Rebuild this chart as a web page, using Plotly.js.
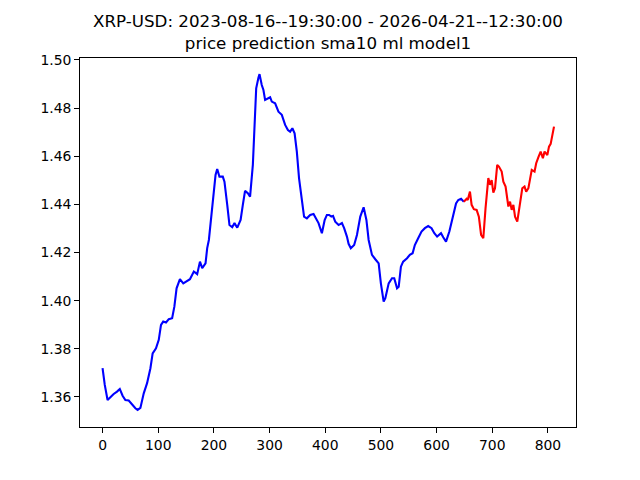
<!DOCTYPE html>
<html>
<head>
<meta charset="utf-8">
<script src="https://cdn.plot.ly/plotly-3.0.1.min.js"></script>
<style>html,body{margin:0;padding:0;background:#fff;}#chart{width:640px;height:480px;}</style>
</head>
<body>
<div id="chart"></div>
<script>
const histX = [0,4,9,14,20,26,31,36,41,47,52,59,63,68,74,80,86,90,96,101,105,109,114,119,125,129,133,139,145,152,157,164,170,175,179,185,188,191,194,198,203,206,210,216,219,224,228,233,237,242,248,252,256,261,265,270,273,276,280,282,286,289,292,297,301,304,310,316,322,328,333,337,341,345,349,353,358,362,367,373,379,384,388,394,399,403,407,411,414,418,424,430,434,439,442,446,452,457,463,469,474,478,484,490,496,500,505,508,514,520,524,529,532,536,540,547,552,557,561,567,573,579,585,591,596,601,608,612,617,623,630,635,639,644,649];
const histY = [1.3720,1.3650,1.3587,1.3600,1.3612,1.3622,1.3633,1.3605,1.3587,1.3585,1.3571,1.3553,1.3546,1.3554,1.3615,1.3657,1.3719,1.3781,1.3802,1.3837,1.3899,1.3913,1.3909,1.3923,1.3927,1.3975,1.4051,1.4089,1.4072,1.4083,1.4089,1.4121,1.4110,1.4162,1.4135,1.4155,1.4218,1.4252,1.4314,1.4398,1.4522,1.4547,1.4515,1.4515,1.4494,1.4398,1.4314,1.4305,1.4322,1.4303,1.4335,1.4398,1.4456,1.4446,1.4432,1.4564,1.4744,1.4882,1.4926,1.4941,1.4896,1.4875,1.4834,1.4841,1.4845,1.4827,1.4820,1.4785,1.4772,1.4730,1.4709,1.4702,1.4716,1.4695,1.4619,1.4508,1.4411,1.4349,1.4342,1.4356,1.4360,1.4342,1.4322,1.4280,1.4335,1.4356,1.4356,1.4349,1.4352,1.4328,1.4314,1.4322,1.4301,1.4266,1.4236,1.4218,1.4231,1.4273,1.4349,1.4388,1.4335,1.4252,1.4190,1.4172,1.4155,1.4072,1.3996,1.4010,1.4072,1.4093,1.4093,1.4051,1.4058,1.4141,1.4162,1.4176,1.4190,1.4197,1.4231,1.4259,1.4287,1.4301,1.4310,1.4301,1.4280,1.4266,1.4280,1.4263,1.4245,1.4287,1.4349,1.4404,1.4418,1.4423,1.4411];
const predX = [649,654,656,658,660,663,667,672,676,680,684,688,693,696,699,702,705,709,712,717,720,724,729,732,735,738,741,745,749,754,758,761,765,768,771,776,779,783,787,791,794,799,802,805,808,811];
const predY = [1.4411,1.4423,1.4418,1.4435,1.4453,1.4398,1.4380,1.4377,1.4349,1.4273,1.4259,1.4384,1.4509,1.4481,1.4501,1.4449,1.4467,1.4564,1.4557,1.4536,1.4494,1.4474,1.4391,1.4411,1.4377,1.4398,1.4349,1.4328,1.4398,1.4467,1.4474,1.4453,1.4467,1.4509,1.4543,1.4536,1.4571,1.4596,1.4619,1.4592,1.4619,1.4605,1.4640,1.4651,1.4696,1.4723];
const xTicks = [0,100,200,300,400,500,600,700,800];
const yTicks = [1.36,1.38,1.40,1.42,1.44,1.46,1.48,1.50];
const titleText = 'XRP-USD: 2023-08-16--19:30:00 - 2026-04-21--12:30:00<br>price prediction sma10 ml model1';

const traces = [
  {x: histX, y: histY, type: 'scatter', mode: 'lines', line: {color: '#0000ff', width: 2.1}, hoverinfo: 'skip'},
  {x: predX, y: predY, type: 'scatter', mode: 'lines', line: {color: '#ff0000', width: 2.1}, hoverinfo: 'skip'}
];
const axisCommon = {
  showline: true, linecolor: '#000', linewidth: 1, mirror: true,
  ticks: 'outside', ticklen: 4.9, tickwidth: 1, tickcolor: '#000',
  showgrid: false, zeroline: false,
  tickfont: {family: 'DejaVu Sans', size: 13.9, color: '#000'}
};
const layout = {
  width: 640, height: 480,
  paper_bgcolor: '#fff', plot_bgcolor: '#fff',
  showlegend: false,
  margin: {l: 80, r: 64, t: 58, b: 53, pad: 0},
  title: {text: titleText, x: 0.5125, xanchor: 'center', y: 0.943, yanchor: 'top', yref: 'container',
          font: {family: 'DejaVu Sans', size: 16.7, color: '#000'}},
  xaxis: Object.assign({}, axisCommon, {range: [-40.5, 850.5], tickvals: xTicks, ticktext: xTicks.map(String)}),
  yaxis: Object.assign({}, axisCommon, {range: [1.3475, 1.5008], tickvals: yTicks, ticktext: yTicks.map(v => v.toFixed(2))})
};
Plotly.newPlot('chart', traces, layout, {displayModeBar: false, staticPlot: true});
</script>
</body>
</html>
